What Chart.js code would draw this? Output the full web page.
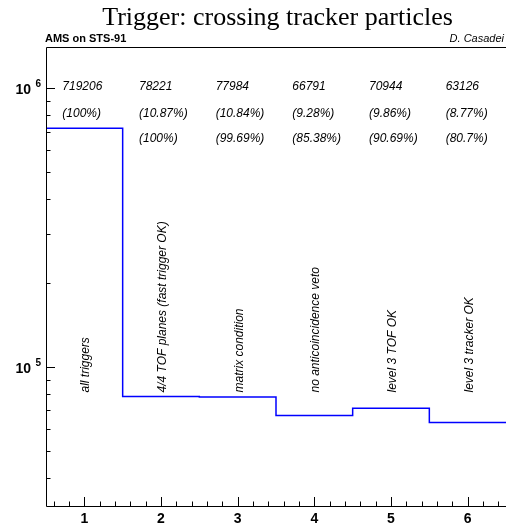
<!DOCTYPE html>
<html>
<head>
<meta charset="utf-8">
<script src="https://cdn.jsdelivr.net/npm/chart.js@4.4.1/dist/chart.umd.min.js"></script>
<style>
  html, body { margin: 0; padding: 0; background: #ffffff; }
  canvas { display: block; }
</style>
</head>
<body>
<canvas id="c" width="506" height="527"></canvas>
<script>
// trigger steps (bin number on the x axis)
const bins = [1, 2, 3, 4, 5, 6];
const counts = [719206, 78221, 77984, 66791, 70944, 63126];
const fracOfAll = ['(100%)', '(10.87%)', '(10.84%)', '(9.28%)', '(9.86%)', '(8.77%)'];
const fracOfPrev = ['', '(100%)', '(99.69%)', '(85.38%)', '(90.69%)', '(80.7%)'];
const stepNames = [
  'all triggers',
  '4/4 TOF planes (fast trigger OK)',
  'matrix condition',
  'no anticoincidence veto',
  'level 3 TOF OK',
  'level 3 tracker OK'
];
const xTickLabels = ['1', '2', '3', '4', '5', '6'];
const yDecades = [5, 6];

const titleText = 'Trigger: crossing tracker particles';
const leftNote = 'AMS on STS-91';
const rightNote = 'D. Casadei';

// histogram as steps: one point per lower bin edge, plus the last upper edge
const stepPoints = bins.map((b, i) => ({ x: b - 0.5, y: counts[i] }));
stepPoints.push({ x: bins[bins.length - 1] + 0.5, y: counts[counts.length - 1] });

const sans = '"Liberation Sans", Arial, Helvetica, sans-serif';
const serif = '"Liberation Serif", "Times New Roman", serif';

// frame, ticks and all the texts, ROOT style
const rootFrame = {
  id: 'rootFrame',
  afterDraw(chart) {
    const ctx = chart.ctx;
    const area = chart.chartArea;
    const xs = chart.scales.x;
    const ys = chart.scales.y;
    ctx.save();

    // frame lines
    ctx.strokeStyle = '#000';
    ctx.lineWidth = 1;
    ctx.beginPath();
    ctx.moveTo(area.left + 0.5, area.top + 0.5);
    ctx.lineTo(area.left + 0.5, area.bottom + 0.5);
    ctx.lineTo(area.right, area.bottom + 0.5);
    ctx.moveTo(area.left + 0.5, area.top + 0.5);
    ctx.lineTo(area.right, area.top + 0.5);
    ctx.stroke();

    // x ticks (pointing up)
    ctx.beginPath();
    for (let v = xs.min + 0.1; v < xs.max; v += 0.2) {
      const px = Math.round(xs.getPixelForValue(v)) + 0.5;
      const major = Math.abs(v - Math.round(v)) < 0.01;
      ctx.moveTo(px, area.bottom);
      ctx.lineTo(px, area.bottom - (major ? 9 : 4.5));
    }
    // y ticks (pointing right)
    for (let d = Math.floor(Math.log10(ys.min)); d <= Math.ceil(Math.log10(ys.max)); d++) {
      for (let k = 1; k <= 9; k++) {
        const v = k * Math.pow(10, d);
        if (v < ys.min || v > ys.max) continue;
        const py = Math.round(ys.getPixelForValue(v)) + 0.5;
        ctx.moveTo(area.left, py);
        ctx.lineTo(area.left + (k === 1 ? 9 : 4.5), py);
      }
    }
    ctx.stroke();

    ctx.fillStyle = '#000';
    // x tick labels
    ctx.font = 'bold 14px ' + sans;
    ctx.textAlign = 'center';
    ctx.textBaseline = 'alphabetic';
    bins.forEach((b, i) => {
      ctx.fillText(xTickLabels[i], xs.getPixelForValue(b), area.bottom + 16.5);
    });

    // y tick labels 10^n
    yDecades.forEach(d => {
      const py = ys.getPixelForValue(Math.pow(10, d));
      ctx.font = 'bold 14px ' + sans;
      ctx.textAlign = 'right';
      ctx.fillText('10', 31, py + 6);
      ctx.font = 'bold 10px ' + sans;
      ctx.textAlign = 'left';
      ctx.fillText(String(d), 35.5, py - 1);
    });

    // title and notes
    ctx.font = '26px ' + serif;
    ctx.textAlign = 'center';
    ctx.fillText(titleText, 277.5, 25);
    ctx.font = 'bold 11px ' + sans;
    ctx.textAlign = 'left';
    ctx.fillText(leftNote, 45, 41.5);
    ctx.font = 'italic 11px ' + sans;
    ctx.textAlign = 'right';
    ctx.fillText(rightNote, 504, 41.5);

    // counts and fractions above each bin
    ctx.font = 'italic 12px ' + sans;
    ctx.textAlign = 'left';
    bins.forEach((b, i) => {
      const px = xs.getPixelForValue(b) - 22;
      ctx.fillText(String(counts[i]), px, area.top + 43);
      ctx.fillText(fracOfAll[i], px, area.top + 70);
      if (fracOfPrev[i]) ctx.fillText(fracOfPrev[i], px, area.top + 94.5);
    });

    // rotated step names
    bins.forEach((b, i) => {
      ctx.save();
      ctx.translate(xs.getPixelForValue(b) + 5, 392.5);
      ctx.rotate(-Math.PI / 2);
      ctx.fillText(stepNames[i], 0, 0);
      ctx.restore();
    });

    ctx.restore();
  }
};

new Chart(document.getElementById('c'), {
  type: 'line',
  data: {
    datasets: [{
      data: stepPoints,
      stepped: 'before',
      borderColor: '#0000ff',
      borderWidth: 1.5,
      pointRadius: 0,
      fill: false
    }]
  },
  options: {
    responsive: false,
    animation: false,
    devicePixelRatio: 1,
    layout: {
      autoPadding: false,
      padding: { left: 46, top: 47, right: 0, bottom: 21 }
    },
    plugins: {
      legend: { display: false },
      tooltip: { enabled: false },
      title: { display: false }
    },
    scales: {
      x: { type: 'linear', display: false, min: 0.5, max: 6.5 },
      y: { type: 'logarithmic', display: false, min: Math.pow(10, 4.5), max: Math.pow(10, 6.149) }
    }
  },
  plugins: [rootFrame]
});
</script>
</body>
</html>
